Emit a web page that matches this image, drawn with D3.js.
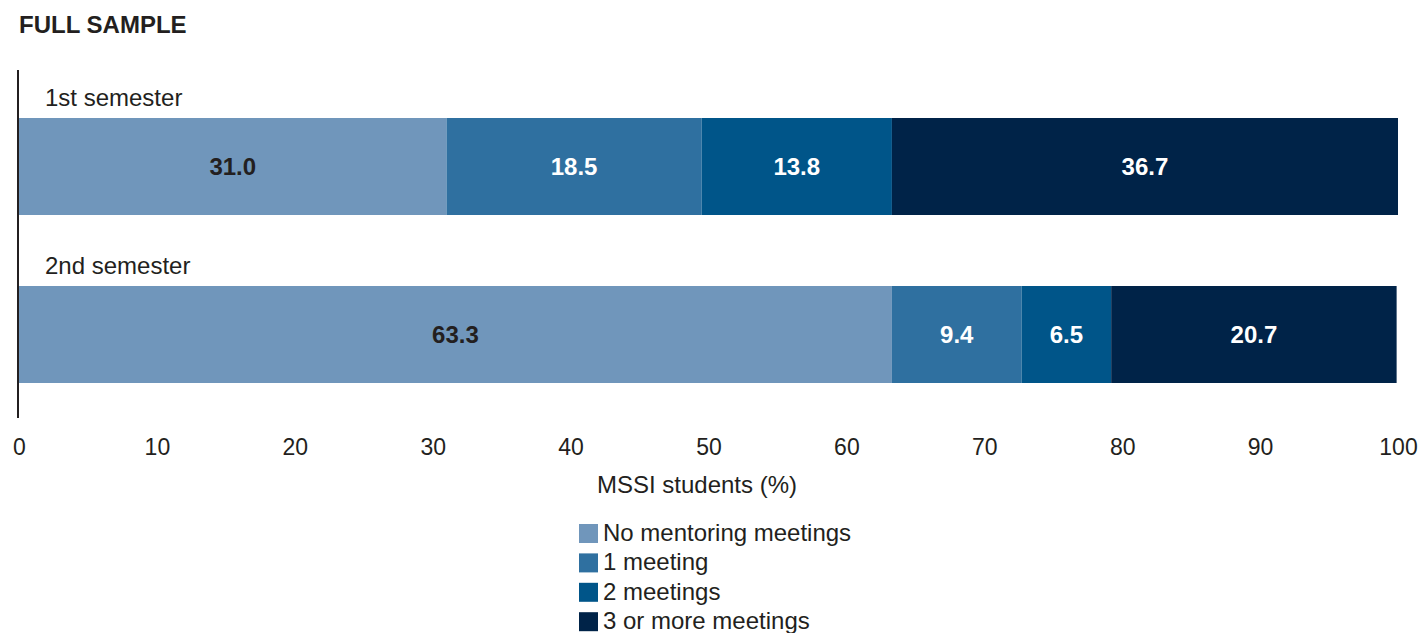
<!DOCTYPE html>
<html>
<head>
<meta charset="utf-8">
<script src="https://cdn.jsdelivr.net/npm/d3@7"></script>
<style>
  html, body { margin: 0; padding: 0; background: #fff; }
  svg { display: block; font-family: Helvetica, Arial, "Liberation Sans", sans-serif; }
</style>
</head>
<body>
<svg id="chart" width="1421" height="633"></svg>
<script>
// Share of MSSI students by number of mentoring meetings, per semester
const semesters = ["1st semester", "2nd semester"];
const meetingCategories = ["No mentoring meetings", "1 meeting", "2 meetings", "3 or more meetings"];
const noMeetings    = [31.0, 63.3];
const oneMeeting    = [18.5, 9.4];
const twoMeetings   = [13.8, 6.5];
const threePlus     = [36.7, 20.7];
const xTicks = [0, 10, 20, 30, 40, 50, 60, 70, 80, 90, 100];
const colors = ["#7096bb", "#2f70a0", "#005589", "#002348"];
const labelColors = ["#231f20", "#ffffff", "#ffffff", "#ffffff"];

const seriesValues = [noMeetings, oneMeeting, twoMeetings, threePlus];
const rows = semesters.map((s, i) => {
  const r = { semester: s };
  meetingCategories.forEach((c, j) => { r[c] = seriesValues[j][i]; });
  return r;
});
const stacked = d3.stack().keys(meetingCategories)(rows);

const svg = d3.select("#chart");
const x = d3.scaleLinear().domain([0, 100]).range([19, 1398]);
const y = d3.scaleBand().domain(semesters).range([118, 383]).paddingInner(71 / 168).paddingOuter(0);

// Title
svg.append("text")
  .attr("x", 19).attr("y", 33)
  .attr("font-size", 24).attr("font-weight", "bold").attr("fill", "#231f20")
  .text("FULL SAMPLE");

// Segments
const layer = svg.append("g").selectAll("g")
  .data(stacked).join("g")
  .attr("fill", (d, i) => colors[i]);

layer.selectAll("rect")
  .data(d => d.map(p => ({ p, key: d.key })))
  .join("rect")
  .attr("x", d => x(d.p[0]))
  .attr("width", d => x(d.p[1]) - x(d.p[0]))
  .attr("y", d => y(d.p.data.semester))
  .attr("height", y.bandwidth());

// Value labels
stacked.forEach((s, i) => {
  svg.append("g").selectAll("text")
    .data(s).join("text")
    .attr("x", d => (x(d[0]) + x(d[1])) / 2)
    .attr("y", d => y(d.data.semester) + y.bandwidth() / 2)
    .attr("dy", "0.35em")
    .attr("text-anchor", "middle")
    .attr("font-size", 24).attr("font-weight", "bold")
    .attr("fill", labelColors[i])
    .text(d => (d[1] - d[0]).toFixed(1));
});

// Semester labels above each bar
svg.append("g").selectAll("text")
  .data(semesters).join("text")
  .attr("x", 45)
  .attr("y", d => y(d) - 12)
  .attr("font-size", 24).attr("fill", "#231f20")
  .text(d => d);

// Vertical baseline
svg.append("line")
  .attr("x1", 18).attr("x2", 18)
  .attr("y1", 70).attr("y2", 418)
  .attr("stroke", "#231f20").attr("stroke-width", 2);

// X axis
const xAxis = svg.append("g")
  .attr("transform", "translate(0,418)")
  .call(d3.axisBottom(x).tickValues(xTicks).tickSize(0).tickPadding(21));
xAxis.select(".domain").remove();
xAxis.selectAll("text")
  .attr("font-size", 23).attr("fill", "#231f20")
  .attr("font-family", "Helvetica, Arial, 'Liberation Sans', sans-serif");

svg.append("text")
  .attr("x", 697).attr("y", 493)
  .attr("text-anchor", "middle")
  .attr("font-size", 24).attr("fill", "#231f20")
  .text("MSSI students (%)");

// Legend
const legend = svg.append("g").selectAll("g")
  .data(meetingCategories).join("g")
  .attr("transform", (d, i) => `translate(579, ${524 + i * 29.4})`);
legend.append("rect")
  .attr("width", 19).attr("height", 19)
  .attr("fill", (d, i) => colors[i]);
legend.append("text")
  .attr("x", 24).attr("y", 17)
  .attr("font-size", 24).attr("fill", "#231f20")
  .text(d => d);
</script>
</body>
</html>
